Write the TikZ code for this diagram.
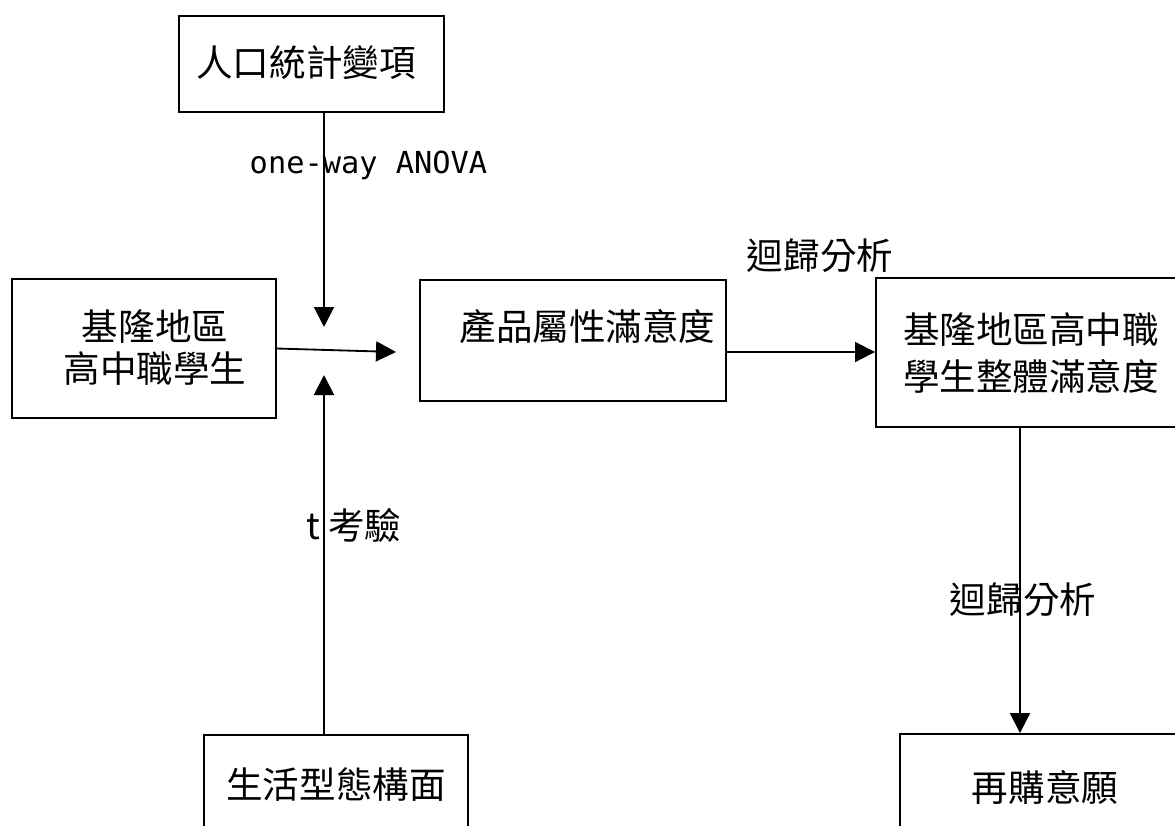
\documentclass[tikz,border=0pt]{standalone}
\usepackage{fontspec}
\setmainfont{Noto Sans CJK TC}
\newfontfamily\monofont{DejaVu Sans Mono}[Scale=0.83]
\usetikzlibrary{arrows.meta}

\tikzset{
  box/.style={draw, line width=1.3pt, rectangle, inner sep=0pt},
  txt/.style={inner sep=0pt, align=center, font=\fontsize{26}{30}\selectfont},
  arr/.style={line width=1.3pt, -{Triangle[length=0.5cm, width=0.5cm]}},
}

\begin{document}
\begin{tikzpicture}[x=0.025cm, y=-0.025cm]
\useasboundingbox (0,0) rectangle (1175,825);
\clip (0,0) rectangle (1175,825);
\fill[white] (0,0) rectangle (1175,825);

% boxes
\node[box, minimum width=6.625cm, minimum height=2.4cm] (demo) at (311.5,64) {};
\node[txt] (demotxt) at (306,63) {人口統計變項};
\node[box, minimum width=6.6cm, minimum height=3.475cm] (student) at (144,348.5) {};
\node[txt, font=\fontsize{26}{29.9}\selectfont] (studtxt) at (155,348) {基隆地區\\高中職學生};
\node[box, minimum width=7.65cm, minimum height=3.025cm] (prod) at (573,340.5) {};
\node[txt] (prodtxt) at (587.5,327) {產品屬性滿意度};
\node[box, minimum width=7.8cm, minimum height=3.725cm] (whole) at (1032,352.5) {};
\node[txt, font=\fontsize{26}{33.4}\selectfont] (wholetxt) at (1031,353) {基隆地區高中職\\學生整體滿意度};
\node[box, minimum width=6.6cm, minimum height=2.5cm] (life) at (336,785) {};
\node[txt] (lifetxt) at (336,785) {生活型態構面};
\node[box, minimum width=7.25cm, minimum height=2.6cm] (rep) at (1045,786) {};
\node[txt] (reptxt) at (1045,787) {再購意願};

% labels
\node[txt, font={\fontsize{26}{30}\selectfont\monofont}] (anova) at (368.5,165) {one-way ANOVA};
\node[txt] (reg1) at (820,256) {迴歸分析};
\node[txt] (ttest) at (354,525) {t 考驗};
\node[txt] (reg2) at (1023,600) {迴歸分析};

% arrows
\coordinate (dtip) at (324,327);
\coordinate (utip) at (324,375);
\coordinate (htip) at (396,352);
\coordinate (rx) at (1020,0);
\draw[arr] (demo.south -| dtip) -- (dtip);
\draw[arr] (life.north -| utip) -- (utip);
\draw[arr] (student.east) -- (htip);
\draw[arr] (prod.east |- htip) -- (whole.west |- htip);
\draw[arr] (whole.south -| rx) -- (rep.north -| rx);
\end{tikzpicture}
\end{document}
